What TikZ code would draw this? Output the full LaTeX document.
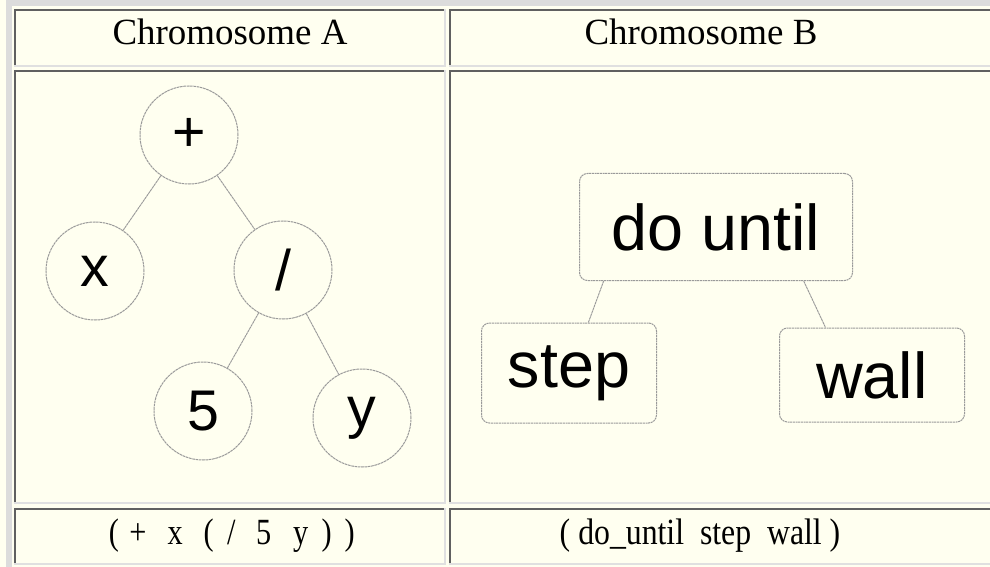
\documentclass[tikz,border=0pt]{standalone}
\usepackage{fontspec}
\usepackage{graphicx}
\usetikzlibrary{calc}
\setmainfont{Liberation Serif}
\newfontfamily\arialf{Liberation Sans}
\definecolor{ivory}{HTML}{FFFFF0}
\definecolor{bandgray}{HTML}{DCDCDC}
\definecolor{darkedge}{HTML}{606060}
\definecolor{lightedge}{HTML}{E0E0E0}
\definecolor{treegray}{HTML}{9A9A9A}
\newcommand{\tablecell}[4]{%
  \fill[lightedge] (#1,#2) rectangle (#3,#4);
  \fill[darkedge] (#1,#2) rectangle ({#3-2},{#4-2});
  \fill[ivory] ({#1+2},{#2+2}) rectangle ({#3-2},{#4-2});
}
\newcommand{\cg}[1]{\scalebox{0.82}[1]{#1}}
\newcommand{\gp}[1]{\hspace*{#1\dimexpr0.75pt\relax}}
\tikzset{
  hdr/.style={font=\fontsize{27.7}{30}\selectfont, anchor=base, inner sep=0pt},
  expr/.style={font=\fontsize{27.7}{30}\selectfont, inner sep=0pt},
  circnode/.style={circle, draw=treegray, line width=0.75pt, dash pattern=on 2pt off 0.5pt,
    minimum size=73.5pt, inner sep=0pt, font=\arialf\fontsize{43}{43}\selectfont},
  boxnode/.style={rectangle, rounded corners=6pt, draw=treegray, line width=0.75pt,
    dash pattern=on 1.5pt off 0.5pt, inner sep=0pt, font=\arialf\fontsize{48.5}{48.5}\selectfont},
  treeedge/.style={draw=treegray, line width=0.7pt, dash pattern=on 2pt off 0.4pt},
}
\begin{document}
\begin{tikzpicture}[x=0.75pt, y=-0.75pt]
\useasboundingbox (0,0) rectangle (990,567);
\fill[ivory] (0,0) rectangle (990,567);
\fill[bandgray] (6,0) rectangle (990,6);
\fill[bandgray] (6,0) rectangle (12,567);
% cells
\tablecell{14}{9}{446}{67}
\tablecell{449}{9}{996}{67}
\tablecell{14}{70}{446}{504}
\tablecell{449}{70}{996}{504}
\tablecell{14}{508}{446}{565}
\tablecell{449}{508}{996}{565}
% headers
\node[hdr] (ha) at (230,45) {Chromosome A};
\node[hdr] (hb) at (701,45) {Chromosome B};
% tree A
\node[circnode] (plus) at (189,135) {+};
\node[circnode] (xx) at (95,271) {x};
\node[circnode] (div) at (283,270) {/};
\node[circnode] (five) at (203,411) {5};
\node[circnode] (yy) at (362,418) {y};
\draw[treeedge] (plus) -- (xx);
\draw[treeedge] (plus) -- (div);
\draw[treeedge] (div) -- (five);
\draw[treeedge] (div) -- (yy);
% tree B
\node[boxnode, minimum width=204.75pt, minimum height=80.25pt] (du) at (716,227) {do until};
\node[boxnode, minimum width=131.25pt, minimum height=75pt] (st) at (569,373) {step};
\node[boxnode, minimum width=138.75pt, minimum height=70.5pt] (wl) at (872,375) {wall};
\draw[treeedge] ($(du.south west)!0.09!(du.south east)$) -- ($(st.north west)!0.61!(st.north east)$);
\draw[treeedge] ($(du.south west)!0.82!(du.south east)$) -- ($(wl.north west)!0.25!(wl.north east)$);
% expressions
\node[expr, anchor=base west] (ea) at (108.5,544)
  {\cg{(}\gp{10.4}\cg{+}\gp{21.4}\cg{x}\gp{20.8}\cg{(}\gp{13.4}\cg{/}\gp{20.6}\cg{5}\gp{21.8}\cg{y}\gp{13.4}\cg{)}\gp{12.9}\cg{)}};
\node[expr, anchor=base] (eb) at (700,544) {\scalebox{0.86}[1]{(\ do\_until\ \ step\ \ wall\ )}};
\end{tikzpicture}
\end{document}
